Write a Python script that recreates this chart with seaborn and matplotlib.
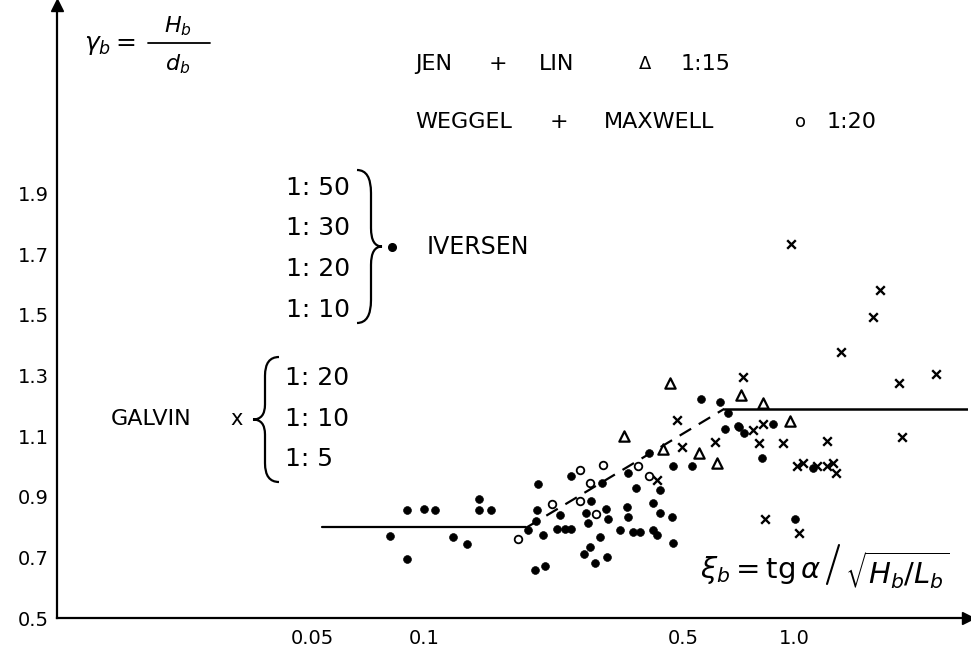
import numpy as np
import pandas as pd
import matplotlib
matplotlib.use("Agg")
import matplotlib.pyplot as plt
from matplotlib.path import Path
from matplotlib.patches import PathPatch
from matplotlib.ticker import NullLocator
import seaborn as sns

# Iversen (1:50, 1:30, 1:20, 1:10) - filled dots
iversen_xi = [0.090, 0.100, 0.107, 0.141, 0.141, 0.152, 0.081, 0.090, 0.120, 0.131,
              0.203, 0.202, 0.200, 0.191, 0.209, 0.199, 0.212,
              0.228, 0.240, 0.250, 0.233, 0.249, 0.302, 0.282, 0.273, 0.310, 0.314,
              0.277, 0.298, 0.280, 0.270, 0.290, 0.311,
              0.337, 0.355, 0.355, 0.366, 0.382, 0.414, 0.425, 0.373, 0.432, 0.353,
              0.414, 0.432, 0.466, 0.469, 0.404, 0.469, 0.528,
              0.558, 0.628, 0.660, 0.648, 0.702, 0.707, 0.730, 0.873, 0.815, 1.118, 1.000]
iversen_gamma = [0.856, 0.860, 0.856, 0.893, 0.856, 0.856, 0.771, 0.695, 0.767, 0.744,
                 0.942, 0.856, 0.820, 0.790, 0.774, 0.658, 0.672,
                 0.794, 0.794, 0.794, 0.840, 0.969, 0.946, 0.886, 0.847, 0.860, 0.827,
                 0.813, 0.767, 0.734, 0.711, 0.680, 0.700,
                 0.790, 0.979, 0.833, 0.784, 0.784, 0.790, 0.774, 0.930, 0.922, 0.866,
                 0.880, 0.846, 0.833, 0.748, 1.045, 1.000, 1.000,
                 1.223, 1.213, 1.177, 1.124, 1.134, 1.130, 1.110, 1.140, 1.028, 0.995, 0.827]

# Weggel + Maxwell 1:20 - open circles
weggel_xi = [0.179, 0.221, 0.263, 0.280, 0.304, 0.263, 0.292, 0.377, 0.404]
weggel_gamma = [0.761, 0.876, 0.988, 0.946, 1.005, 0.886, 0.843, 1.000, 0.970]

# Jen + Lin 1:15 - triangles
jenlin_xi = [0.460, 0.346, 0.441, 0.551, 0.616, 0.715, 0.820, 0.970]
jenlin_gamma = [1.276, 1.100, 1.058, 1.045, 1.012, 1.236, 1.210, 1.150]

# Galvin (1:20, 1:10, 1:5) - crosses
galvin_xi = [0.481, 0.496, 0.609, 0.424, 0.724, 0.771, 0.820, 0.800, 0.928, 1.220,
             1.050, 1.013, 1.150, 1.220, 1.270, 1.290, 0.830, 1.025, 0.975, 1.700,
             1.620, 1.330, 1.910, 2.400, 1.940]
galvin_gamma = [1.153, 1.064, 1.080, 0.955, 1.295, 1.120, 1.140, 1.077, 1.077, 1.084,
                1.013, 1.000, 1.000, 1.000, 1.010, 0.980, 0.827, 0.780, 1.734, 1.582,
                1.493, 1.378, 1.276, 1.305, 1.098]

# trend line: flat, rising (dashed), flat
flat_lo_xi = [0.053, 0.188]
flat_lo_gamma = [0.80, 0.80]
rise_xi = [0.190, 0.645]
rise_gamma = [0.80, 1.19]
flat_hi_xi = [0.645, 2.95]
flat_hi_gamma = [1.19, 1.19]

x_ticks = [0.05, 0.1, 0.5, 1.0]
x_labels = ["0.05", "0.1", "0.5", "1.0"]
y_ticks = [0.5, 0.7, 0.9, 1.1, 1.3, 1.5, 1.7, 1.9]
y_labels = ["0.5", "0.7", "0.9", "1.1", "1.3", "1.5", "1.7", "1.9"]

sns.set_style("white")
plt.rcParams["font.family"] = ["DejaVu Sans"]
plt.rcParams["mathtext.fontset"] = "dejavusans"
plt.rcParams["text.color"] = "black"

W, H = 971, 647
fig = plt.figure(figsize=(W / 100, H / 100), dpi=100)
ax = fig.add_axes([57 / W, 29 / H, 911 / W, 613 / H])

sns.scatterplot(x=iversen_xi, y=iversen_gamma, marker="o", color="black",
                s=32, edgecolor="black", ax=ax)
sns.scatterplot(x=weggel_xi, y=weggel_gamma, marker="o", color="white",
                s=30, edgecolor="black", linewidth=1.3, ax=ax)
sns.scatterplot(x=jenlin_xi, y=jenlin_gamma, marker="^", color="white",
                s=55, edgecolor="black", linewidth=1.6, ax=ax)
sns.scatterplot(x=galvin_xi, y=galvin_gamma, marker="x", color="black",
                s=38, linewidth=1.7, ax=ax)

ax.plot(flat_lo_xi, flat_lo_gamma, color="black", lw=1.6)
ax.plot(rise_xi, rise_gamma, color="black", lw=1.6, dashes=(6, 4))
ax.plot(flat_hi_xi, flat_hi_gamma, color="black", lw=1.8)

ax.set_xscale("log")
ax.set_xlim(0.01026, 2.93)
ax.set_ylim(0.5, 2.523)
ax.set_xticks(x_ticks)
ax.set_xticklabels(x_labels)
ax.xaxis.set_minor_locator(NullLocator())
ax.set_yticks(y_ticks)
ax.set_yticklabels(y_labels)
ax.tick_params(direction="inout", length=6, width=1, labelsize=14, colors="black")
ax.tick_params(axis="x", pad=5)
ax.tick_params(axis="y", pad=3)

for side in ["top", "right"]:
    ax.spines[side].set_visible(False)
for side in ["left", "bottom"]:
    ax.spines[side].set_linewidth(1.6)
    ax.spines[side].set_color("black")
ax.plot(1, 0, ">k", ms=9, transform=ax.transAxes, clip_on=False)
ax.plot(0, 1, "^k", ms=9, transform=ax.transAxes, clip_on=False)


def fig_xy(px, py):
    return px / W, 1 - py / H


def put(px, py, s, **kw):
    fx, fy = fig_xy(px, py)
    kw.setdefault("va", "center")
    fig.text(fx, fy, s, **kw)


def seg(p0, p1, lw=1.4):
    (x0, y0), (x1, y1) = fig_xy(*p0), fig_xy(*p1)
    fig.add_artist(plt.Line2D([x0, x1], [y0, y1], color="black", lw=lw))


def brace(x_tip, x_mid, x_end, y_top, y_bot, lw=1.6):
    # curly brace drawn in pixel space; x_tip is the middle point
    ym = (y_top + y_bot) / 2
    h = y_bot - y_top
    pts = [(x_end, y_top), (x_mid, y_top), (x_mid, y_top + 0.15 * h),
           (x_mid, ym - 0.12 * h),
           (x_mid, ym), (x_tip, ym),
           (x_mid, ym), (x_mid, ym + 0.12 * h),
           (x_mid, y_bot - 0.15 * h),
           (x_mid, y_bot), (x_end, y_bot)]
    codes = [Path.MOVETO, Path.CURVE3, Path.CURVE3, Path.LINETO,
             Path.CURVE3, Path.CURVE3, Path.CURVE3, Path.CURVE3,
             Path.LINETO, Path.CURVE3, Path.CURVE3]
    path = Path([fig_xy(*p) for p in pts], codes)
    fig.patches.append(PathPatch(path, transform=fig.transFigure, fill=False,
                                 lw=lw, color="black"))


# y-axis label gamma_b = H_b / d_b
put(84, 45, r"$\gamma_b =$", fontsize=18)
put(178, 26, r"$H_b$", fontsize=16, ha="center")
put(178, 64, r"$d_b$", fontsize=16, ha="center")
seg((148, 43), (210, 43), lw=1.3)

# legend texts
fs = 16
put(415, 64, "JEN", fontsize=fs)
put(498, 64, "+", fontsize=fs, ha="center")
put(539, 64, "LIN", fontsize=fs)
put(645, 64, "\u0394", fontsize=13, ha="center")
put(681, 64, "1:15", fontsize=fs)
put(415, 122, "WEGGEL", fontsize=fs)
put(559, 122, "+", fontsize=fs, ha="center")
put(604, 122, "MAXWELL", fontsize=fs)
put(800, 122, "o", fontsize=13, ha="center")
put(827, 122, "1:20", fontsize=fs)

for yy, lab in zip([188, 228, 269, 310], ["1: 50", "1: 30", "1: 20", "1: 10"]):
    put(286, yy, lab, fontsize=18)
brace(382, 371, 357, 170, 323)
dx, dy = fig_xy(392, 247)
fig.add_artist(plt.Line2D([dx], [dy], marker="o", ms=5.5, color="black", lw=0))
put(427, 247, "IVERSEN", fontsize=17)

put(111, 419, "GALVIN", fontsize=16)
put(237, 419, "x", fontsize=15, ha="center")
brace(253, 265, 279, 357, 482)
for yy, lab in zip([378, 419, 459], ["1: 20", "1: 10", "1: 5"]):
    put(285, yy, lab, fontsize=18)

# x-axis label xi_b = tg alpha / sqrt(H_b / L_b)
put(700, 570, r"$\xi_b = \mathrm{tg}\,\alpha$", fontsize=21)
seg((827, 584), (839, 545), lw=1.5)
put(845, 570, r"$\sqrt{H_b/L_b}$", fontsize=21)

fig.savefig("out.png", dpi=100)
